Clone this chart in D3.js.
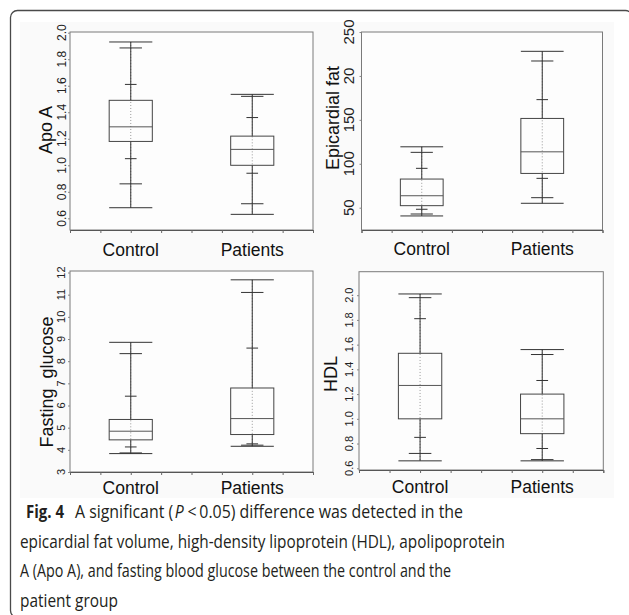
<!DOCTYPE html>
<html>
<head>
<meta charset="utf-8">
<script src="https://cdn.jsdelivr.net/npm/d3@7"></script>
<style>
  body { margin: 0; background: #fff; }
  svg { display: block; }
</style>
</head>
<body>
<svg id="fig" width="629" height="615"></svg>
<script>
// groups on the x axis
const groups = ['Control', 'Patients']

// each series: [min, p5, p10, q1, median, q3, p90, p95, max]
const apoControl = [0.68, 0.86, 1.05, 1.18, 1.29, 1.49, 1.61, 1.885, 1.93]
const apoPatients = [0.63, 0.71, 0.94, 1.0, 1.12, 1.22, 1.36, 1.52, 1.535]
const fatControl = [40.6, 42.8, 48.2, 52.3, 63.6, 82.6, 94.8, 113, 119.3]
const fatPatients = [55, 61.4, 83.4, 89, 113.6, 151.6, 173, 217, 228]
const glucoseControl = [3.83, 3.86, 4.13, 4.45, 4.84, 5.37, 6.42, 8.34, 8.85]
const glucosePatients = [4.16, 4.21, 4.27, 4.69, 5.41, 6.79, 8.59, 11.1, 11.67]
const hdlControl = [0.66, 0.72, 0.85, 1.0, 1.27, 1.53, 1.81, 1.98, 2.01]
const hdlPatients = [0.66, 0.67, 0.76, 0.88, 1.0, 1.2, 1.31, 1.52, 1.56]

// tick values and labels (the "20" is as printed in the figure)
const apoTicks = [0.6, 0.8, 1.0, 1.2, 1.4, 1.6, 1.8, 2.0]
const apoTickLabels = ['0.6', '0.8', '1.0', '1.2', '1.4', '1.6', '1.8', '2.0']
const fatTicks = [50, 100, 150, 200, 250]
const fatTickLabels = ['50', '100', '150', '20', '250']
const glucoseTicks = [3, 4, 5, 6, 7, 8, 9, 10, 11, 12]
const glucoseTickLabels = ['3', '4', '5', '6', '7', '8', '9', '10', '11', '12']
const hdlTicks = [0.6, 0.8, 1.0, 1.2, 1.4, 1.6, 1.8, 2.0]
const hdlTickLabels = ['0.6', '0.8', '1.0', '1.2', '1.4', '1.6', '1.8', '2.0']

const svg = d3.select('#fig')

// rounded frame of the figure
svg.append('rect')
  .attr('x', 10.5).attr('y', 10.5)
  .attr('width', 622).attr('height', 607)
  .attr('rx', 7)
  .attr('fill', '#fff')
  .attr('stroke', '#4a4a4a')
  .attr('stroke-width', 1.3)

svg.append('rect')
  .attr('x', 20).attr('y', 22)
  .attr('width', 594).attr('height', 476)
  .attr('fill', '#fafafa')

const panels = [
  {
    title: 'Apo A', series: [apoControl, apoPatients],
    ticks: apoTicks, tickLabels: apoTickLabels, domain: [0.512, 2.0],
    left: 70, right: 313, top: 32, bottom: 230, yTop: 32.7,
    tickFont: 12, tickGap: 8, titleX: 46, titleY: 130, labelGap: 26
  },
  {
    title: 'Epicardial fat', series: [fatControl, fatPatients],
    ticks: fatTicks, tickLabels: fatTickLabels, domain: [24.6, 250],
    left: 361.5, right: 602.5, top: 32, bottom: 230, yTop: 32,
    tickFont: 15, tickGap: 12.5, titleX: 333, titleY: 118, labelGap: 25
  },
  {
    title: 'Fasting  glucose', series: [glucoseControl, glucosePatients],
    ticks: glucoseTicks, tickLabels: glucoseTickLabels, domain: [3, 12],
    left: 70, right: 313, top: 271, bottom: 472, yTop: 272.5,
    tickFont: 11, tickGap: 8.7, titleX: 47, titleY: 382, labelGap: 22
  },
  {
    title: 'HDL', series: [hdlControl, hdlPatients],
    ticks: hdlTicks, tickLabels: hdlTickLabels, domain: [0.586, 2.19],
    left: 359, right: 603.3, top: 271.7, bottom: 470, yTop: 271.7,
    tickFont: 11, tickGap: 10, titleX: 331, titleY: 374, labelGap: 23
  }
]

panels.forEach(drawPanel)

/**
 * Draws one box plot panel.
 */
function drawPanel (p) {
  const g = svg.append('g')
  const x = d3.scaleBand().domain(groups).range([p.left, p.right])
  const y = d3.scaleLinear().domain(p.domain).range([p.bottom, p.yTop])
  const bw = x.bandwidth()

  g.append('rect')
    .attr('x', p.left).attr('y', p.top)
    .attr('width', p.right - p.left).attr('height', p.bottom - p.top)
    .attr('fill', '#fdfdfd')
    .attr('stroke', '#7a7a7a')
    .attr('stroke-width', 1)

  // minor ticks along the bottom
  const minor = d3.scaleLinear().domain([0, 8]).range([p.left, p.right])
  const bx = g.append('g')
    .attr('transform', `translate(0,${p.bottom})`)
    .call(d3.axisBottom(minor).tickValues(d3.range(9)).tickSize(3).tickFormat(''))
  bx.select('.domain').attr('stroke', '#555')
  bx.selectAll('.tick line').attr('stroke', '#666')

  const ly = g.append('g')
    .attr('transform', `translate(${p.left},0)`)
    .call(d3.axisLeft(y).tickValues(p.ticks).tickSize(2).tickFormat(''))
  ly.select('.domain').remove()
  ly.selectAll('.tick line').attr('stroke', '#888')

  // rotated tick labels
  g.selectAll('.ylab')
    .data(p.ticks)
    .join('text')
    .attr('class', 'ylab')
    .attr('transform', d => `translate(${p.left - p.tickGap},${y(d)}) rotate(-90)`)
    .attr('text-anchor', 'middle')
    .attr('dy', '0.36em')
    .style('font-family', 'Liberation Sans, Arial, sans-serif')
    .style('font-size', p.tickFont + 'px')
    .attr('fill', '#222')
    .text((d, i) => p.tickLabels[i])

  g.append('text')
    .attr('transform', `translate(${p.titleX},${p.titleY}) rotate(-90)`)
    .attr('text-anchor', 'middle')
    .attr('dy', '0.36em')
    .style('font-family', 'Liberation Sans, Arial, sans-serif')
    .style('font-size', '18px')
    .style('white-space', 'pre')
    .attr('fill', '#111')
    .text(p.title)

  g.selectAll('.xlab')
    .data(groups)
    .join('text')
    .attr('class', 'xlab')
    .attr('x', d => x(d) + bw / 2)
    .attr('y', p.bottom + p.labelGap)
    .attr('text-anchor', 'middle')
    .style('font-family', 'Liberation Sans, Arial, sans-serif')
    .style('font-size', '17.5px')
    .attr('fill', '#111')
    .text(d => d)

  groups.forEach((grp, i) => {
    const s = p.series[i]
    const cx = x(grp) + bw / 2
    const w = bw * 0.355
    const b = g.append('g')

    // faint dotted column of points
    b.append('line')
      .attr('x1', cx).attr('x2', cx)
      .attr('y1', y(s[8])).attr('y2', y(s[0]))
      .attr('stroke', '#999')
      .attr('stroke-dasharray', '1,2')

    b.append('line')
      .attr('x1', cx).attr('x2', cx)
      .attr('y1', y(s[8])).attr('y2', y(s[5]))
      .attr('stroke', '#333')
    b.append('line')
      .attr('x1', cx).attr('x2', cx)
      .attr('y1', y(s[3])).attr('y2', y(s[0]))
      .attr('stroke', '#333')

    b.append('rect')
      .attr('x', cx - w / 2).attr('y', y(s[5]))
      .attr('width', w).attr('height', y(s[3]) - y(s[5]))
      .attr('fill', 'none')
      .attr('stroke', '#444')
    b.append('line')
      .attr('x1', cx - w / 2).attr('x2', cx + w / 2)
      .attr('y1', y(s[4])).attr('y2', y(s[4]))
      .attr('stroke', '#555')

    // caps: min/max wide, p5/p95 medium, p10/p90 short
    const caps = [[s[0], 1], [s[8], 1], [s[1], 0.52], [s[7], 0.52], [s[2], 0.27], [s[6], 0.27]]
    b.selectAll('.cap')
      .data(caps)
      .join('line')
      .attr('class', 'cap')
      .attr('x1', d => cx - w * d[1] / 2)
      .attr('x2', d => cx + w * d[1] / 2)
      .attr('y1', d => y(d[0]))
      .attr('y2', d => y(d[0]))
      .attr('stroke', '#333')
  })
}

// caption
const cap = svg.append('g')
  .style('font-family', 'Open Sans, Noto Sans, sans-serif')
  .style('font-size', '18px')
  .attr('fill', '#231f20')

cap.append('text').attr('x', 26).attr('y', 518)
  .attr('textLength', 38).attr('lengthAdjust', 'spacingAndGlyphs')
  .style('font-weight', 'bold')
  .text('Fig. 4')

// first line after "Fig. 4": pieces laid side by side, squeezed to the printed width
const pieces = [
  ['A significant (', 'normal'],
  ['P', 'italic'],
  ['<\u20090.05) difference was detected in the', 'normal']
]
const gaps = [1.5, 4]
const pieceNodes = pieces.map(pc => cap.append('text')
  .attr('y', 518)
  .style('font-style', pc[1])
  .text(pc[0]))
const natural = pieceNodes.map(n => n.node().getComputedTextLength())
const k = (388 - d3.sum(gaps)) / d3.sum(natural)
let px = 75
pieceNodes.forEach((n, i) => {
  n.attr('x', px)
    .attr('textLength', natural[i] * k)
    .attr('lengthAdjust', 'spacingAndGlyphs')
  px += natural[i] * k + (gaps[i] || 0)
})

const rest = [
  ['epicardial fat volume, high-density lipoprotein (HDL), apolipoprotein', 547.5, 485],
  ['A (Apo A), and fasting blood glucose between the control and the', 577, 431],
  ['patient group', 607, 98]
]
rest.forEach(r => {
  cap.append('text')
    .attr('x', 20).attr('y', r[1])
    .attr('textLength', r[2]).attr('lengthAdjust', 'spacingAndGlyphs')
    .text(r[0])
})
</script>
</body>
</html>
